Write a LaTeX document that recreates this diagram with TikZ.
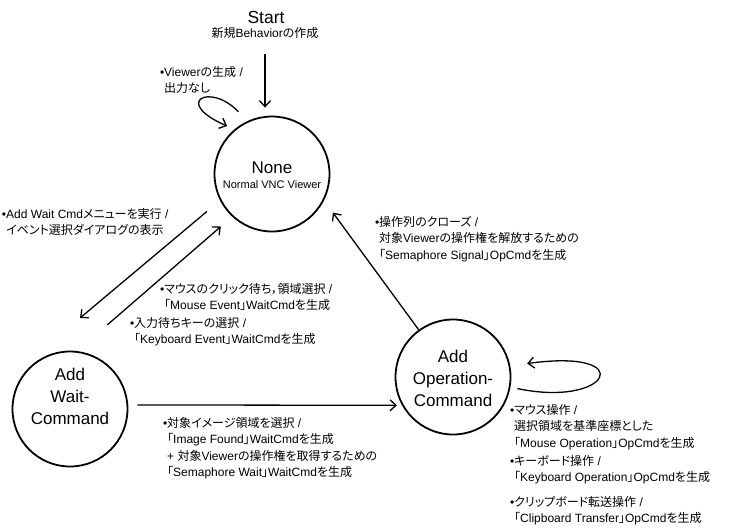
\documentclass[tikz,border=0pt]{standalone}
\usepackage{fontspec}
\setmainfont{Liberation Sans}
\newfontfamily\jpfont[RawFeature=+palt]{Noto Sans CJK JP}
\newcommand{\ja}[1]{{\jpfont #1}}
\newcommand{\bul}{\llap{•}}
\usetikzlibrary{arrows.meta}

\begin{document}
\begin{tikzpicture}[x=1pt,y=-1pt,
  state/.style={circle,draw,line width=1.8pt,minimum size=115pt,inner sep=0pt},
  statename/.style={align=center,font=\fontsize{17}{22}\selectfont},
  note/.style={anchor=north west,align=left,inner sep=0pt,font=\fontsize{12}{16.5}\selectfont},
  trans/.style={line width=1.3pt,-{Straight Barb[length=6pt,width=11pt]}}]
\useasboundingbox (0,0) rectangle (730,531);

\node[font=\fontsize{17.5}{20}\selectfont] (start) at (266,17) {Start};
\node[font=\fontsize{12}{14}\selectfont] (startsub) at (265,33) {\ja{新規}Behavior\ja{の作成}};

\node[state] (none) at (272,174) {};
\node[font=\fontsize{17}{20}\selectfont] (nonename) at (272,168) {None};
\node[font=\fontsize{11}{13}\selectfont] (nonesub) at (272,185) {Normal VNC Viewer};

\node[state] (wait) at (70,409) {};
\node[statename] (waitname) at (70,396) {Add\\Wait-\\Command};

\node[state] (op) at (453,377) {};
\node[statename] (opname) at (453,378) {Add\\Operation-\\Command};

\draw[trans, shorten <=12, shorten >=8] (startsub.south) -- (startsub.south |- none.north);
\draw[trans, shorten <=13, shorten >=8] (none.115) .. controls (210,82) and (172,102) .. (none.130);
\node[note] (nview) at (164,66) {\bul Viewer\ja{の生成} /\\\ja{出力なし}};

\coordinate (waitin) at (80,318);
\draw[trans, shorten <=17] (none.207) -- (waitin);
\node[note] (naddwait) at (6,208) {\bul Add Wait Cmd\ja{メニューを実行} /\\\ja{イベント選択ダイアログの表示}};

\draw[trans, shorten <=40, shorten >=15] (wait.83) -- (none.227);
\node[note] (nmouse) at (164,283) {\bul\ja{マウスのクリック待ち，領域選択} /\\\ja{「}Mouse Event\ja{」}WaitCmd\ja{を生成}};
\node[note] (nkey) at (134,317) {\bul\ja{入力待ちキーの選択} /\\\ja{「}Keyboard Event\ja{」}WaitCmd\ja{を生成}};

\draw[trans, shorten >=15] (op.126) -- (none.-27);
\node[note] (nclose) at (379,216) {\bul\ja{操作列のクローズ} /\\\ja{対象}Viewer\ja{の操作権を解放するための}\\\ja{「}Semaphore Signal\ja{」}OpCmd\ja{を生成}};

\draw[trans, shorten <=9, shorten >=5] (wait.4) -- (op.209);
\node[note] (nimage) at (167,417) {\bul\ja{対象イメージ領域を選択} /\\\ja{「}Image Found\ja{」}WaitCmd\ja{を生成}\\+ \ja{対象}Viewer\ja{の操作権を取得するための}\\\ja{「}Semaphore Wait\ja{」}WaitCmd\ja{を生成}};

\draw[trans, shorten <=7, shorten >=17] (op.-10) .. controls (610,408) and (640,348) .. (op.11);
\node[note] (nmop) at (514,404) {\bul\ja{マウス操作} /\\\ja{選択領域を基準座標とした}\\\ja{「}Mouse Operation\ja{」}OpCmd\ja{を生成}};
\node[note] (nkop) at (514,455) {\bul\ja{キーボード操作} /\\\ja{「}Keyboard Operation\ja{」}OpCmd\ja{を生成}};
\node[note] (nclip) at (514,496) {\bul\ja{クリップボード転送操作} /\\\ja{「}Clipboard Transfer\ja{」}OpCmd\ja{を生成}};
\end{tikzpicture}
\end{document}
